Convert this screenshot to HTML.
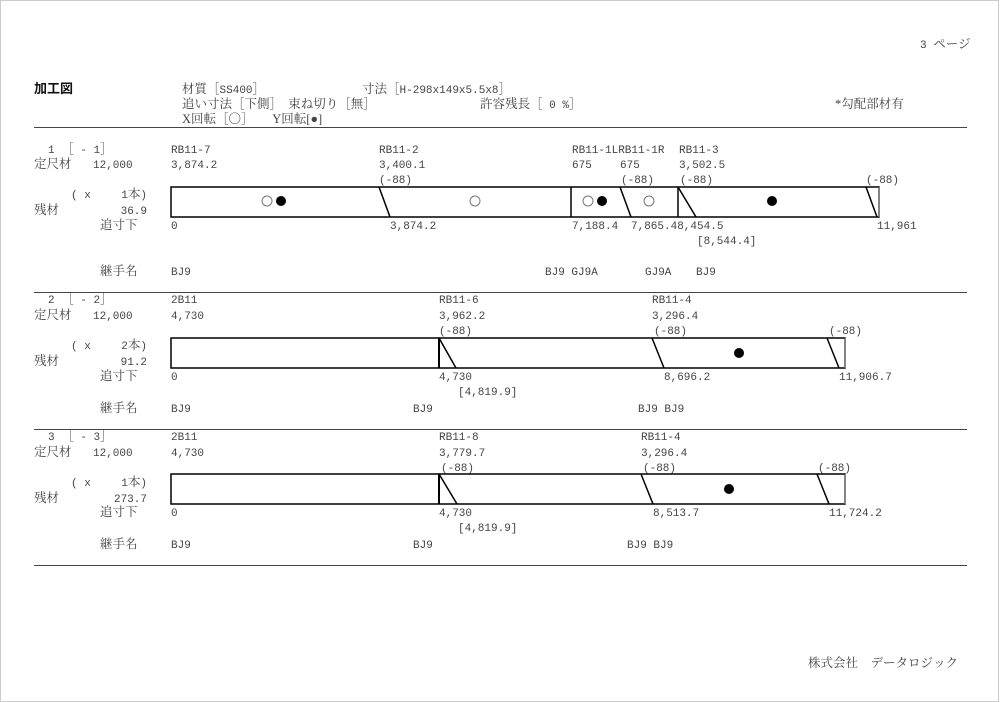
<!DOCTYPE html>
<html><head><meta charset="utf-8"><style>
html,body{margin:0;padding:0;background:#fff}
svg{display:block}
text{font-family:"Liberation Mono","Noto Serif CJK JP",monospace;font-size:11px;fill:#444}
.c{font-family:"Liberation Serif","Noto Serif CJK JP",serif;font-size:12.5px}
.b{font-family:"Liberation Sans","Noto Sans CJK JP",sans-serif;font-weight:bold;fill:#111;font-size:13px}
</style></head><body>
<svg width="1000" height="702" viewBox="0 0 1000 702" xmlns="http://www.w3.org/2000/svg">
<rect x="0.5" y="0.5" width="998" height="701" fill="#fff" stroke="#ccc"/>
<text x="920" y="48">3 <tspan class="c" font-size="11">ページ</tspan></text>
<text class="b" x="34" y="93">加工図</text>
<text x="182" y="93"><tspan class="c">材質［</tspan>SS400<tspan class="c">］</tspan></text>
<text x="362" y="93"><tspan class="c">寸法［</tspan>H-298x149x5.5x8<tspan class="c">］</tspan></text>
<text class="c" x="182" y="108">追い寸法［下側］　束ね切り［無］</text>
<text x="480" y="108"><tspan class="c">許容残長［</tspan> 0 %<tspan class="c">］</tspan></text>
<text class="c" x="835" y="108">*勾配部材有</text>
<text class="c" x="182" y="123">X回転［〇］　　Y回転[●]</text>
<line x1="34" y1="127.5" x2="967" y2="127.5" stroke="#444"/>

<!-- block 1 -->
<g>
<text x="48" y="153">1 <tspan class="c">［</tspan> - 1<tspan class="c">］</tspan></text>
<text class="c" x="34" y="168">定尺材</text><text x="93" y="168">12,000</text>
<text x="71" y="198">( x</text><text x="147" y="198" text-anchor="end">1<tspan class="c">本</tspan>)</text>
<text class="c" x="34" y="214">残材</text><text x="147" y="214" text-anchor="end">36.9</text>
<text class="c" x="100" y="229">追寸下</text>
<text class="c" x="100" y="275">継手名</text>
<text x="171" y="153">RB11-7</text><text x="171" y="168">3,874.2</text>
<text x="379" y="153">RB11-2</text><text x="379" y="168">3,400.1</text><text x="379" y="183">(-88)</text>
<text x="572" y="153">RB11-1LRB11-1R</text><text x="572" y="168">675</text><text x="620" y="168">675</text><text x="621" y="183">(-88)</text>
<text x="679" y="153">RB11-3</text><text x="679" y="168">3,502.5</text><text x="680" y="183">(-88)</text>
<text x="866" y="183">(-88)</text>
<rect x="171" y="187" width="708" height="30" fill="none" stroke="#000" stroke-width="1.5"/>
<line x1="879" y1="187" x2="879" y2="217" stroke="#888"/>
<line x1="379" y1="187" x2="390" y2="217" stroke="#000" stroke-width="1.5"/>
<line x1="571" y1="187" x2="571" y2="217" stroke="#000" stroke-width="1.5"/>
<line x1="620" y1="187" x2="631" y2="217" stroke="#000" stroke-width="1.5"/>
<line x1="678" y1="187" x2="678" y2="217" stroke="#000" stroke-width="1.5"/>
<line x1="678" y1="187" x2="696" y2="217" stroke="#000" stroke-width="1.5"/>
<line x1="866" y1="187" x2="877" y2="217" stroke="#000" stroke-width="1.5"/>
<circle cx="267" cy="201" r="5" fill="none" stroke="#777"/><circle cx="281" cy="201" r="5" fill="#000"/>
<circle cx="475" cy="201" r="5" fill="none" stroke="#777"/>
<circle cx="588" cy="201" r="5" fill="none" stroke="#777"/><circle cx="602" cy="201" r="5" fill="#000"/>
<circle cx="649" cy="201" r="5" fill="none" stroke="#777"/>
<circle cx="772" cy="201" r="5" fill="#000"/>
<text x="171" y="229">0</text><text x="390" y="229">3,874.2</text><text x="572" y="229">7,188.4</text>
<text x="631" y="229">7,865.48,454.5</text><text x="877" y="229">11,961</text>
<text x="697" y="244">[8,544.4]</text>
<text x="171" y="275">BJ9</text><text x="545" y="275">BJ9 GJ9A</text><text x="645" y="275">GJ9A</text><text x="696" y="275">BJ9</text>
</g>
<line x1="34" y1="292.5" x2="967" y2="292.5" stroke="#444"/>

<!-- block 2 -->
<g>
<text x="48" y="303">2 <tspan class="c">［</tspan> - 2<tspan class="c">］</tspan></text>
<text class="c" x="34" y="319">定尺材</text><text x="93" y="319">12,000</text>
<text x="71" y="349">( x</text><text x="147" y="349" text-anchor="end">2<tspan class="c">本</tspan>)</text>
<text class="c" x="34" y="365">残材</text><text x="147" y="365" text-anchor="end">91.2</text>
<text class="c" x="100" y="380">追寸下</text>
<text class="c" x="100" y="412">継手名</text>
<text x="171" y="303">2B11</text><text x="171" y="319">4,730</text>
<text x="439" y="303">RB11-6</text><text x="439" y="319">3,962.2</text><text x="439" y="334">(-88)</text>
<text x="652" y="303">RB11-4</text><text x="652" y="319">3,296.4</text><text x="654" y="334">(-88)</text>
<text x="829" y="334">(-88)</text>
<rect x="171" y="338" width="674" height="30" fill="none" stroke="#000" stroke-width="1.5"/>
<line x1="845" y1="338" x2="845" y2="368" stroke="#888"/>
<line x1="439" y1="338" x2="439" y2="368" stroke="#000" stroke-width="2"/>
<line x1="439" y1="338" x2="456" y2="368" stroke="#000" stroke-width="1.5"/>
<line x1="652" y1="338" x2="664" y2="368" stroke="#000" stroke-width="1.5"/>
<line x1="827" y1="338" x2="839" y2="368" stroke="#000" stroke-width="1.5"/>
<circle cx="739" cy="353" r="5" fill="#000"/>
<text x="171" y="380">0</text><text x="439" y="380">4,730</text><text x="664" y="380">8,696.2</text><text x="839" y="380">11,906.7</text>
<text x="458" y="395">[4,819.9]</text>
<text x="171" y="412">BJ9</text><text x="413" y="412">BJ9</text><text x="638" y="412">BJ9 BJ9</text>
</g>
<line x1="34" y1="429.5" x2="967" y2="429.5" stroke="#444"/>

<!-- block 3 -->
<g>
<text x="48" y="440">3 <tspan class="c">［</tspan> - 3<tspan class="c">］</tspan></text>
<text class="c" x="34" y="456">定尺材</text><text x="93" y="456">12,000</text>
<text x="71" y="486">( x</text><text x="147" y="486" text-anchor="end">1<tspan class="c">本</tspan>)</text>
<text class="c" x="34" y="502">残材</text><text x="147" y="502" text-anchor="end">273.7</text>
<text class="c" x="100" y="516">追寸下</text>
<text class="c" x="100" y="548">継手名</text>
<text x="171" y="440">2B11</text><text x="171" y="456">4,730</text>
<text x="439" y="440">RB11-8</text><text x="439" y="456">3,779.7</text><text x="441" y="471">(-88)</text>
<text x="641" y="440">RB11-4</text><text x="641" y="456">3,296.4</text><text x="643" y="471">(-88)</text>
<text x="818" y="471">(-88)</text>
<rect x="171" y="474" width="674" height="30" fill="none" stroke="#000" stroke-width="1.5"/>
<line x1="845" y1="474" x2="845" y2="504" stroke="#888"/>
<line x1="439" y1="474" x2="439" y2="504" stroke="#000" stroke-width="2"/>
<line x1="439" y1="474" x2="457" y2="504" stroke="#000" stroke-width="1.5"/>
<line x1="641" y1="474" x2="653" y2="504" stroke="#000" stroke-width="1.5"/>
<line x1="817" y1="474" x2="829" y2="504" stroke="#000" stroke-width="1.5"/>
<circle cx="729" cy="489" r="5" fill="#000"/>
<text x="171" y="516">0</text><text x="439" y="516">4,730</text><text x="653" y="516">8,513.7</text><text x="829" y="516">11,724.2</text>
<text x="458" y="531">[4,819.9]</text>
<text x="171" y="548">BJ9</text><text x="413" y="548">BJ9</text><text x="627" y="548">BJ9 BJ9</text>
</g>
<line x1="34" y1="565.5" x2="967" y2="565.5" stroke="#444"/>

<text class="c" x="808" y="667" font-size="13.5">株式会社　データロジック</text>
</svg>
</body></html>
